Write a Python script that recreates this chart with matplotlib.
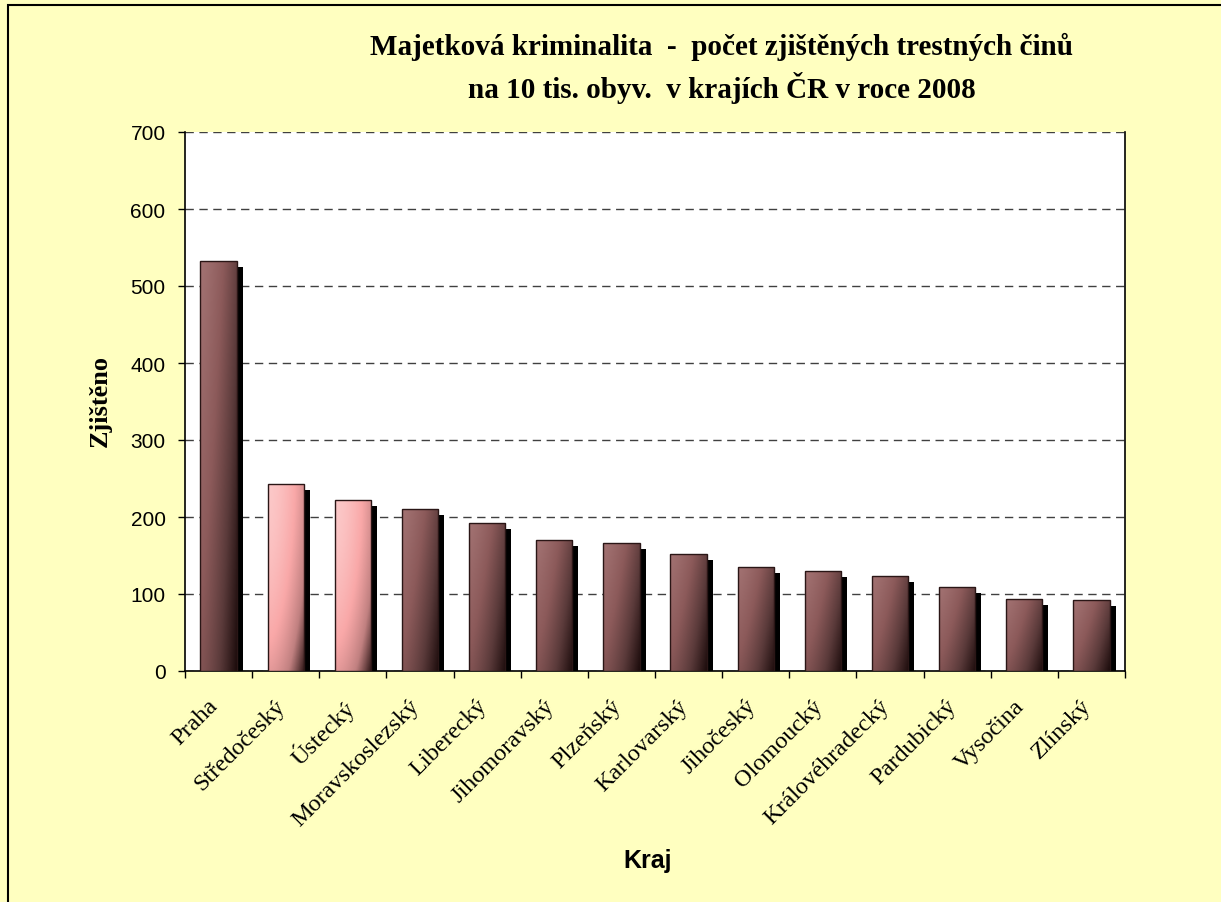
import numpy as np
import matplotlib
matplotlib.use("Agg")
import matplotlib.pyplot as plt
from matplotlib.colors import LinearSegmentedColormap
from matplotlib.transforms import ScaledTranslation
from matplotlib.patches import Rectangle

# Property crime per 10k inhabitants by region, 2008
regions = ["Praha", "Středočeský", "Ústecký", "Moravskoslezský", "Liberecký",
           "Jihomoravský", "Plzeňský", "Karlovarský", "Jihočeský", "Olomoucký",
           "Královéhradecký", "Pardubický", "Vysočina", "Zlínský"]
values = [532, 243, 222, 210, 192, 170, 166, 152, 135, 130, 123, 109, 94, 92]
highlighted = ["Středočeský", "Ústecký"]
yticks = [0, 100, 200, 300, 400, 500, 600, 700]

BG = "#FFFFC0"
brown_cmap = LinearSegmentedColormap.from_list(
    "brown", ["#a27272", "#8c5a5a", "#5a3a3a", "#1c0c0c"])
pink_cmap = LinearSegmentedColormap.from_list(
    "pink", ["#fcc8c8", "#f9a8a8", "#c08080", "#2a1414"])

W, H = 1221, 903
fig = plt.figure(figsize=(W / 100, H / 100), dpi=100, facecolor=BG)
ax = fig.add_axes([185 / W, 1 - 672 / H, 940 / W, 539 / H])
ax.set_facecolor("white")

x = np.arange(len(regions))
width = 0.54

# drop shadows, shifted right/down in screen space
shadow_tr = ax.transData + ScaledTranslation(6 / 100, -6 / 100, fig.dpi_scale_trans)
ax.bar(x, values, width=width, color="black", transform=shadow_tr, zorder=2)

bars = ax.bar(x, values, width=width, facecolor="none", edgecolor="#2a1616",
              linewidth=1.0, zorder=4)

# gradient fill clipped to each bar
u = np.linspace(0, 1, 64)
U, V = np.meshgrid(u, np.linspace(0, 1, 128))
for name, rect in zip(regions, bars):
    x0, y0 = rect.get_x(), rect.get_y()
    w, h = rect.get_width(), rect.get_height()
    if name in highlighted:
        field = np.clip(0.55 * U ** 1.6 + 0.45 * V ** 1.8, 0, 1)
        cmap = pink_cmap
    else:
        field = np.clip(0.6 * U ** 1.3 + 0.4 * V, 0, 1)
        cmap = brown_cmap
    im = ax.imshow(field, cmap=cmap, vmin=0, vmax=1, aspect="auto",
                   extent=(x0, x0 + w, y0, y0 + h), origin="upper",
                   interpolation="bilinear", zorder=3)
    im.set_clip_path(rect)

ax.set_xlim(-0.5, len(regions) - 0.5)
ax.set_ylim(0, 700)
ax.set_yticks(yticks)
ax.set_yticklabels([str(t) for t in yticks], fontfamily="Liberation Sans", fontsize=15)
ax.yaxis.grid(True, linestyle=(0, (6, 4)), color="#404040", linewidth=1.0, zorder=1)
ax.set_axisbelow(True)

# category boundaries as ticks, names written diagonally under each bar
ax.set_xticks(np.arange(len(regions) + 1) - 0.5)
ax.set_xticklabels([])
ax.tick_params(axis="x", length=5, direction="out", width=1, color="black")
ax.tick_params(axis="y", length=5, direction="out", width=1, color="black", pad=9)

label_tr = ax.get_xaxis_transform() + ScaledTranslation(-11 / 100, -24 / 100, fig.dpi_scale_trans)
for xi, name in zip(x, regions):
    ax.text(xi, 0, name, transform=label_tr, rotation=45, rotation_mode="anchor",
            ha="right", va="top", fontfamily="Liberation Serif", fontsize=17.5)

for side in ["left", "bottom", "right"]:
    ax.spines[side].set_color("black")
    ax.spines[side].set_linewidth(1.2)
ax.spines["top"].set_visible(False)

ax.set_xlabel("Kraj", fontfamily="Liberation Sans", fontweight="bold", fontsize=18)
ax.xaxis.set_label_coords((648 - 185) / 940, -(849 - 672) / 539)
ax.set_ylabel("Zjištěno", fontfamily="Liberation Serif", fontweight="bold", fontsize=19)
ax.yaxis.set_label_coords(-(185 - 112) / 940, (672 - 401) / 539)

fig.text(722 / W, 1 - 47 / H, "Majetková kriminalita  -  počet zjištěných trestných činů",
         ha="center", va="center", fontfamily="Liberation Serif", fontweight="bold", fontsize=21)
fig.text(722 / W, 1 - 88 / H, "na 10 tis. obyv.  v krajích ČR v roce 2008",
         ha="center", va="center", fontfamily="Liberation Serif", fontweight="bold", fontsize=21)

# chart frame
fig.patches.append(Rectangle((8 / W, -0.01), 1.02, 1 - 6 / H + 0.01,
                             transform=fig.transFigure, fill=False,
                             edgecolor="black", linewidth=1.5))

fig.savefig("out.png", dpi=100, facecolor=BG)
